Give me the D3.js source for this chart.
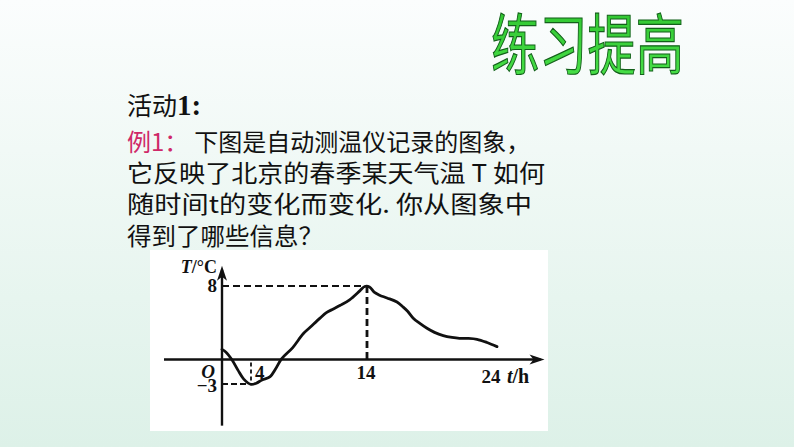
<!DOCTYPE html>
<html><head><meta charset="utf-8">
<script src="https://cdn.jsdelivr.net/npm/d3@7/dist/d3.min.js"></script>
<style>html,body{margin:0;padding:0;overflow:hidden;}svg{display:block;}</style>
</head><body>
<script>
// ---- data ----
const times = [0, 0.55, 1.35, 2.2, 3.0, 4, 4.45, 4.95, 5.65, 6.1, 6.65, 7.6, 8.5, 9.1, 9.95, 10.5, 11.1, 11.7, 12.5, 13.4, 13.8, 14.2, 14.6, 15.0, 15.6, 16.4, 16.9, 17.25, 17.7, 18.2, 18.8, 19.4, 20.1, 20.8, 21.4, 22.1, 22.8, 23.6, 24.4];
const temps = [1.1, 0.8, 0, -1.3, -2.4, -3.05, -2.9, -2.5, -2.1, -1.2, 0.1, 1.3, 2.8, 3.5, 4.5, 5.1, 5.5, 5.9, 6.5, 7.5, 7.95, 7.9, 7.3, 7.0, 6.7, 6.25, 5.7, 5.25, 4.5, 3.95, 3.4, 2.95, 2.6, 2.4, 2.3, 2.3, 2.2, 1.85, 1.4];
const xTicks = [4, 14, 24];
const yTicks = [8, -3];
const peak = {t: 14, T: 8};
const low = {t: 4, T: -3};
const title = "练习提高";
const heading = "活动";
const headingNum = "1:";
const exampleLabel = "例1：";
const lines = ["下图是自动测温仪记录的图象，", "它反映了北京的春季某天气温 T 如何", "随时间t的变化而变化. 你从图象中", "得到了哪些信息？"];

const W = 794, H = 447;
const svg = d3.select("body").append("svg").attr("width", W).attr("height", H);
const defs = svg.append("defs");
const bg = defs.append("linearGradient").attr("id","bg").attr("x1",0).attr("y1",0).attr("x2",0).attr("y2",1);
bg.append("stop").attr("offset","0%").attr("stop-color","#fbfdfd");
bg.append("stop").attr("offset","100%").attr("stop-color","#ddf1e8");
const tg = defs.append("linearGradient").attr("id","tg").attr("x1",0).attr("y1",0).attr("x2",0).attr("y2",1);
tg.append("stop").attr("offset","0%").attr("stop-color","#2cc02c");
tg.append("stop").attr("offset","100%").attr("stop-color","#4ae24a");

svg.append("rect").attr("width",W).attr("height",H).attr("fill","url(#bg)");

// title
svg.append("text").attr("x",491).attr("y",69)
  .attr("font-family","'Noto Sans CJK SC'").attr("font-size",66)
  .attr("textLength",193).attr("lengthAdjust","spacingAndGlyphs")
  .attr("fill","url(#tg)").attr("stroke","#13601a").attr("stroke-width",1.2)
  .text(title);

// text block
const cjk = "'Noto Sans CJK SC'";
const h = svg.append("text").attr("x",127).attr("y",115).attr("font-family",cjk).attr("font-size",25).attr("fill","#111");
h.append("tspan").text(heading);
h.append("tspan").attr("font-family","'Liberation Serif'").attr("font-weight","bold").attr("font-size",29).text(headingNum);

const l1 = svg.append("text").attr("x",127).attr("y",151).attr("font-family",cjk).attr("font-size",24).attr("fill","#111");
l1.append("tspan").attr("fill","#cf2868").text(exampleLabel);
l1.append("tspan").attr("dx",6).text(lines[0]);
const ends = [545, 532, 323];
const bases = [182, 213, 245];
lines.slice(1).forEach((s,i)=>{
  svg.append("text").attr("x",127).attr("y",bases[i]).attr("font-family",cjk).attr("font-size",24)
    .attr("fill","#111").attr("textLength",ends[i]-127).attr("lengthAdjust","spacingAndGlyphs").text(s);
});

// chart panel
svg.append("rect").attr("x",150).attr("y",250).attr("width",398).attr("height",181).attr("fill","#ffffff");

const x = d3.scaleLinear().domain([0,4,14,24]).range([222,251,367,492]);
const y = d3.scaleLinear().domain([-3,0,8]).range([384,359.5,286]);
const g = svg.append("g");
const ink = "#111";

// axes
const xMin = -8, xMax = 28.2, yMin = -8.1, yMax = 10.2;
g.append("line").attr("x1",x(xMin)).attr("x2",x(xMax)-4).attr("y1",y(0)).attr("y2",y(0)).attr("stroke",ink).attr("stroke-width",2.4);
g.append("line").attr("x1",x(0)).attr("x2",x(0)).attr("y1",y(yMin)).attr("y2",y(yMax)+4).attr("stroke",ink).attr("stroke-width",2.4);
g.append("path").attr("d",`M${x(xMax)},${y(0)} L${x(xMax)-15},${y(0)-5} L${x(xMax)-11},${y(0)} L${x(xMax)-15},${y(0)+5}Z`).attr("fill",ink);
g.append("path").attr("d",`M${x(0)},${y(yMax)} L${x(0)-5},${y(yMax)+15} L${x(0)},${y(yMax)+11} L${x(0)+5},${y(yMax)+15}Z`).attr("fill",ink);

// dashed guides
g.append("line").attr("x1",x(0)).attr("x2",x(peak.t)).attr("y1",y(peak.T)).attr("y2",y(peak.T)).attr("stroke",ink).attr("stroke-width",2.2).attr("stroke-dasharray","7,4");
g.append("line").attr("x1",x(peak.t)).attr("x2",x(peak.t)).attr("y1",y(peak.T)).attr("y2",y(0)).attr("stroke",ink).attr("stroke-width",2.8).attr("stroke-dasharray","7,4");
g.append("line").attr("x1",x(0)).attr("x2",x(low.t)).attr("y1",y(low.T)).attr("y2",y(low.T)).attr("stroke",ink).attr("stroke-width",2.2).attr("stroke-dasharray","6,3");
g.append("line").attr("x1",x(low.t)).attr("x2",x(low.t)).attr("y1",y(0)+3).attr("y2",y(low.T)).attr("stroke",ink).attr("stroke-width",1.8).attr("stroke-dasharray","4,3");

// curve
const pts = times.map((t,i)=>[t,temps[i]]);
g.append("path").attr("d", d3.line().x(d=>x(d[0])).y(d=>y(d[1])).curve(d3.curveCatmullRom)(pts))
  .attr("fill","none").attr("stroke",ink).attr("stroke-width",2.8).attr("stroke-linejoin","round").attr("stroke-linecap","round");

// labels
const serif = "'Liberation Serif'";
const lab = (tx,ty,s,anchor,italic)=>g.append("text").attr("x",tx).attr("y",ty).attr("font-family",serif)
  .attr("font-weight","bold").attr("font-size",19).attr("text-anchor",anchor||"middle")
  .attr("font-style",italic?"italic":"normal").attr("fill",ink).text(s);
xTicks.forEach(v=>{
  if (v===4) lab(x(v)+4, y(0)+19, String(v), "start");
  else lab(x(v) - 1, y(0)+(v===24 ? 23 : 19), String(v));
});
yTicks.forEach(v=>{
  lab(x(0)-5, v<0 ? y(v)+8 : y(v)+6, v<0 ? "−"+Math.abs(v) : String(v), "end");
});
lab(x(0)-7, y(0)+18.5, "O", "end", true);
const xl = g.append("text").attr("x",x(24)+15).attr("y",y(0)+23).attr("font-family",serif).attr("font-weight","bold").attr("font-size",20).attr("fill",ink);
xl.append("tspan").attr("font-style","italic").text("t");
xl.append("tspan").text("/h");
const yl = g.append("text").attr("x",x(0)-5).attr("y",y(yMax)+7).attr("text-anchor","end").attr("font-family",serif).attr("font-weight","bold").attr("font-size",18).attr("fill",ink);
yl.append("tspan").attr("font-style","italic").text("T");
yl.append("tspan").text("/°C");
</script>
</body></html>
